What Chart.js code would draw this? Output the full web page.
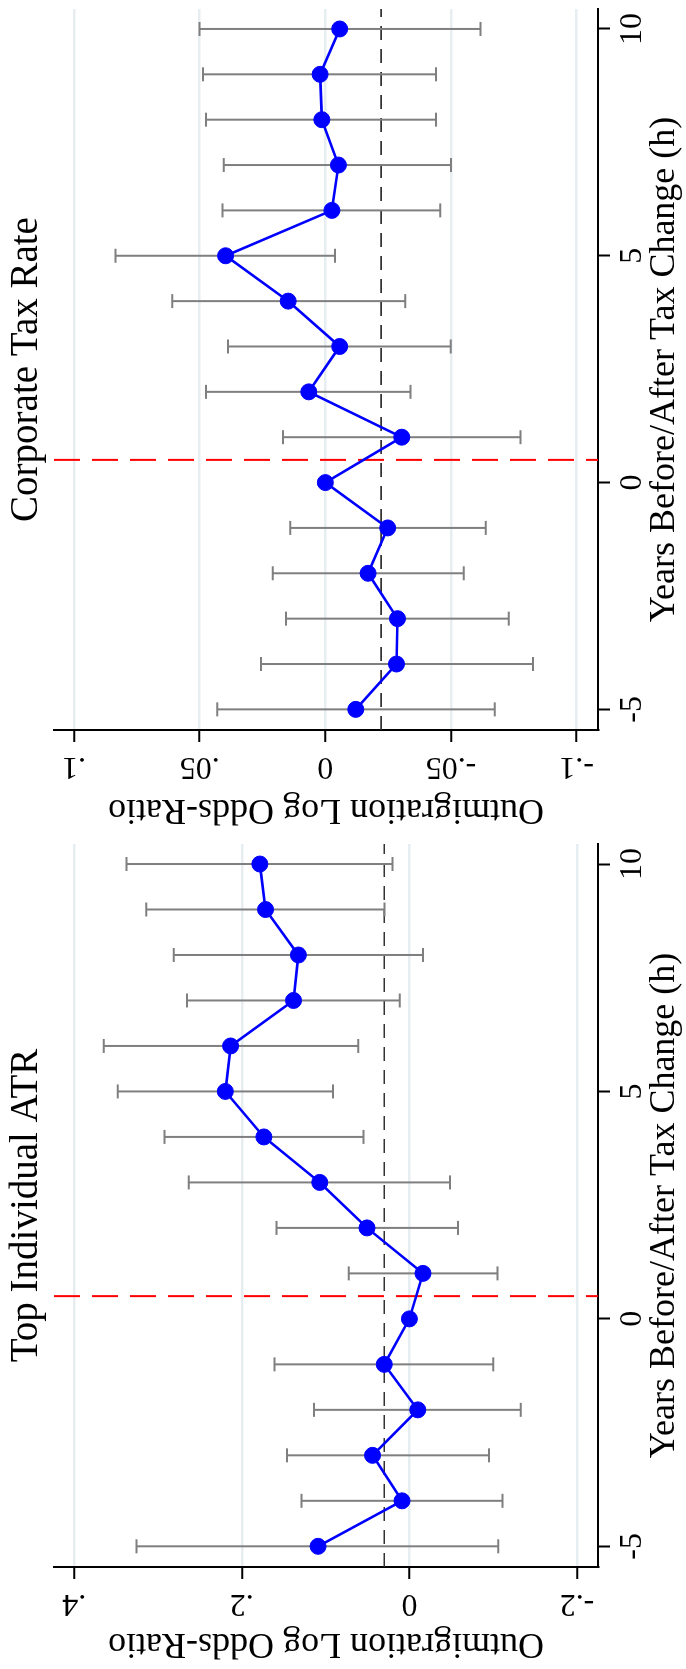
<!DOCTYPE html>
<html><head><meta charset="utf-8">
<script src="https://cdn.jsdelivr.net/npm/chart.js@4.4.1/dist/chart.umd.min.js"></script>
<style>
html,body{margin:0;padding:0;background:#fff;overflow:hidden;width:686px;height:1669px;}
#page{position:absolute;left:0;top:0;width:1669px;height:686px;transform-origin:0 0;transform:translate(0px,1669px) rotate(-90deg);background:#fff;}
canvas{position:absolute;top:0;}
</style></head><body>
<div id="page">
<canvas id="c1" width="834" height="686" style="left:0px"></canvas>
<canvas id="c2" width="835" height="686" style="left:834px"></canvas>
</div>
<script>
// ---- data ----
const years = [-5,-4,-3,-2,-1,0,1,2,3,4,5,6,7,8,9,10];

const atrTitle = "Top Individual ATR";
const atrCoef = [0.109, 0.0088, 0.044, -0.010, 0.030, 0.0, -0.0162, 0.0506, 0.107, 0.1737, 0.2197, 0.2134, 0.1383, 0.1325, 0.1717, 0.1785];
const atrLo   = [-0.106, -0.111, -0.095, -0.133, -0.100, null, -0.105, -0.058, -0.0486, 0.0548, 0.0913, 0.061, 0.0114, -0.0162, 0.0297, 0.0203];
const atrHi   = [0.3256, 0.1289, 0.146, 0.114, 0.161, null, 0.0725, 0.1586, 0.2635, 0.2922, 0.348, 0.3648, 0.2656, 0.2812, 0.314, 0.3376];
const atrRef  = 0.030;
const atrYTicks = [-0.2, 0, 0.2, 0.4];
const atrYLabels = ["-.2", "0", ".2", ".4"];

const corpTitle = "Corporate Tax Rate";
const corpCoef = [-0.0121, -0.0283, -0.0287, -0.017, -0.0248, 0.0, -0.0304, 0.0066, -0.0057, 0.0148, 0.0397, -0.0026, -0.0052, 0.0014, 0.0021, -0.0057];
const corpLo   = [-0.0674, -0.0826, -0.073, -0.0551, -0.0638, null, -0.0777, -0.0339, -0.0499, -0.0318, -0.0038, -0.0457, -0.050, -0.044, -0.044, -0.0617];
const corpHi   = [0.043, 0.0256, 0.0157, 0.0209, 0.014, null, 0.0169, 0.0475, 0.0388, 0.0609, 0.0835, 0.0409, 0.0404, 0.0475, 0.0487, 0.0501];
const corpRef  = -0.0222;
const corpYTicks = [-0.1, -0.05, 0, 0.05, 0.1];
const corpYLabels = ["-.1", "-.05", "0", ".05", ".1"];

const xTicks = [-5, 0, 5, 10];
const xTitle = "Years Before/After Tax Change (h)";
const yTitle = "Outmigration Log Odds-Ratio";
const treatLine = 0.5;

Chart.defaults.font.family = "'Liberation Serif', 'Times New Roman', serif";
Chart.defaults.color = '#000';

function makePanel(id, p) {
  const overlay = {
    id: 'overlay',
    beforeDatasetsDraw(chart) {
      const {ctx, chartArea: a, scales: {x, y}} = chart;
      ctx.save();
      // horizontal reference line (black dashed)
      const ry = y.getPixelForValue(p.ref);
      ctx.strokeStyle = '#333333'; ctx.lineWidth = 1.7; ctx.setLineDash([14, 9]);
      ctx.beginPath(); ctx.moveTo(a.left, ry); ctx.lineTo(a.right, ry); ctx.stroke();
      // treatment line (red dashed)
      const rx = x.getPixelForValue(treatLine);
      ctx.strokeStyle = '#ff0000'; ctx.lineWidth = 2; ctx.setLineDash([26, 12]);
      ctx.beginPath(); ctx.moveTo(rx, a.top); ctx.lineTo(rx, a.bottom); ctx.stroke();
      ctx.setLineDash([]);
      // error bars
      ctx.strokeStyle = '#7f7f7f'; ctx.lineWidth = 2;
      years.forEach((h, i) => {
        if (p.lo[i] == null) return;
        const px = x.getPixelForValue(h);
        const y1 = y.getPixelForValue(p.lo[i]);
        const y2 = y.getPixelForValue(p.hi[i]);
        ctx.beginPath();
        ctx.moveTo(px, y1); ctx.lineTo(px, y2);
        ctx.moveTo(px - 7, y1); ctx.lineTo(px + 7, y1);
        ctx.moveTo(px - 7, y2); ctx.lineTo(px + 7, y2);
        ctx.stroke();
      });
      ctx.restore();
    },
    afterDraw(chart) {
      const {ctx, chartArea: a, scales: {y}} = chart;
      ctx.save();
      ctx.fillStyle = '#000';
      // rotated y tick labels
      ctx.font = "32px 'Liberation Serif'";
      ctx.textAlign = 'center'; ctx.textBaseline = 'alphabetic';
      y.ticks.forEach((t) => {
        const idx = p.yTicks.indexOf(t.value);
        const lab = idx >= 0 ? p.yLabels[idx] : String(t.value);
        const py = y.getPixelForValue(t.value);
        ctx.save();
        ctx.translate(a.left - 28, py);
        ctx.rotate(-Math.PI / 2);
        ctx.fillText(lab, 0, 0);
        ctx.restore();
      });
      // panel title
      ctx.font = "39px 'Liberation Serif'";
      ctx.textAlign = 'center'; ctx.textBaseline = 'alphabetic';
      ctx.fillText(p.title, (a.left + a.right) / 2, 37);
      ctx.restore();
    }
  };

  new Chart(document.getElementById(id), {
    type: 'line',
    data: {
      datasets: [{
        data: years.map((h, i) => ({x: h, y: p.coef[i]})),
        borderColor: '#0000ff', borderWidth: 2.6,
        pointRadius: 8, pointBackgroundColor: '#0000ff', pointBorderColor: '#0000ff', pointBorderWidth: 1,
        tension: 0, fill: false, clip: false
      }]
    },
    options: {
      responsive: false, animation: false, devicePixelRatio: 1,
      layout: {padding: {top: 54, right: p.padRight, left: 0, bottom: 0}},
      plugins: {legend: {display: false}, tooltip: {enabled: false}, title: {display: false}},
      scales: {
        x: {
          type: 'linear', min: -5.455, max: 10.44,
          afterBuildTicks: s => { s.ticks = xTicks.map(v => ({value: v})); },
          afterFit: s => { s.height = 88; },
          ticks: {font: {size: 32}, color: '#000', maxRotation: 0, minRotation: 0, autoSkip: false, padding: 3,
                  callback: v => String(v)},
          grid: {drawOnChartArea: false, drawTicks: true, tickLength: 12, tickColor: '#000', tickWidth: 2},
          border: {display: true, color: '#000', width: 2},
          title: {display: true, text: xTitle, font: {size: 36}, color: '#000', padding: {top: 0, bottom: 0}}
        },
        y: {
          type: 'linear', min: p.yMin, max: p.yMax,
          afterBuildTicks: s => { s.ticks = p.yTicks.map(v => ({value: v})); },
          afterFit: s => { s.width = p.yWidth; },
          ticks: {display: false},
          grid: {color: '#e6eef1', lineWidth: 2.5, drawTicks: true, tickLength: 12, tickColor: '#000', tickWidth: 2},
          border: {display: true, color: '#000', width: 2},
          title: {display: true, text: yTitle, font: {size: 36}, color: '#000', padding: {top: 4, bottom: 0}}
        }
      }
    },
    plugins: [overlay]
  });
}

makePanel('c1', {title: atrTitle, coef: atrCoef, lo: atrLo, hi: atrHi, ref: atrRef,
  yTicks: atrYTicks, yLabels: atrYLabels, yMin: -0.2251, yMax: 0.4242, yWidth: 102, padRight: 9});
makePanel('c2', {title: corpTitle, coef: corpCoef, lo: corpLo, hi: corpHi, ref: corpRef,
  yTicks: corpYTicks, yLabels: corpYLabels, yMin: -0.1085, yMax: 0.108, yWidth: 105, padRight: 7});
</script>
</body></html>
